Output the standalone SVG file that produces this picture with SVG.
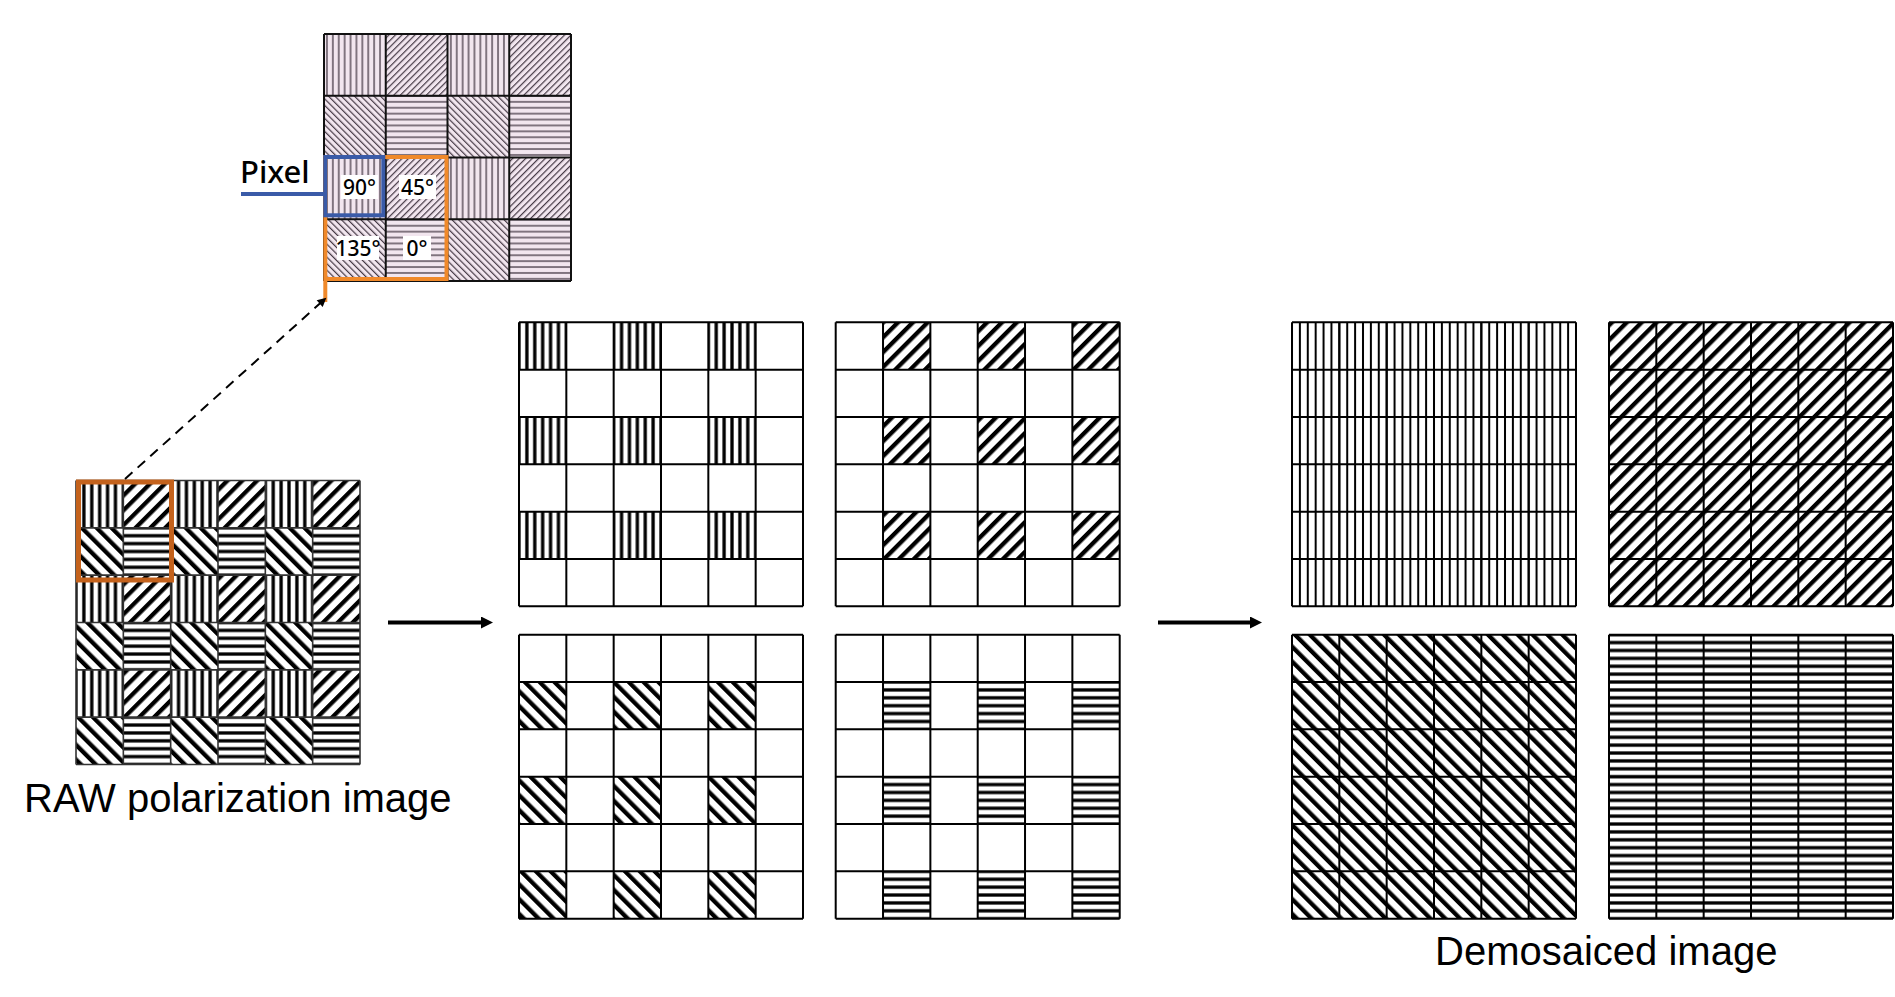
<svg xmlns="http://www.w3.org/2000/svg" width="1895" height="997" viewBox="0 0 1895 997">
<style>
.grid{fill:none;stroke:#000;stroke-width:2}
.rawgrid{fill:none;stroke:#333;stroke-width:1.6}
.sgrid{fill:none;stroke:#111;stroke-width:2}
.lbl{font-family:"Noto Sans","DejaVu Sans",sans-serif;font-weight:500;font-size:21px;fill:#000;text-anchor:middle}
.cap{font-family:"Liberation Sans",Arial,sans-serif;font-size:40px;fill:#000}
.conn{stroke:#000;stroke-width:4;fill:none}
.dash{stroke:#000;stroke-width:2;fill:none;stroke-dasharray:10 7}
</style>
<defs>
<pattern id="pV" patternUnits="userSpaceOnUse" width="7.889" height="10"><rect width="7.889" height="10" fill="#fff"/><rect x="0" width="1.65" height="10" fill="#000"/><rect x="6.239" width="1.65" height="10" fill="#000"/></pattern>
<pattern id="pH" patternUnits="userSpaceOnUse" width="10" height="7.889"><rect width="10" height="7.889" fill="#fff"/><rect y="0" width="10" height="1.65" fill="#000"/><rect y="6.239" width="10" height="1.65" fill="#000"/></pattern>
<pattern id="pD45" patternUnits="userSpaceOnUse" width="10.5" height="10" patternTransform="rotate(45)"><rect width="10.5" height="10" fill="#fff"/><rect width="4.3" height="10" fill="#000"/></pattern>
<pattern id="pD135" patternUnits="userSpaceOnUse" width="10.5" height="10" patternTransform="rotate(-45)"><rect width="10.5" height="10" fill="#fff"/><rect width="4.3" height="10" fill="#000"/></pattern>
<pattern id="pVt" patternUnits="userSpaceOnUse" width="7.889" height="10"><rect width="7.889" height="10" fill="#fff"/><rect x="0" width="1" height="10" fill="#000"/><rect x="6.889" width="1" height="10" fill="#000"/></pattern>
<pattern id="pHt" patternUnits="userSpaceOnUse" width="10" height="7.889"><rect width="10" height="7.889" fill="#fff"/><rect y="0" width="10" height="1.3" fill="#000"/><rect y="6.589" width="10" height="1.3" fill="#000"/></pattern>
<pattern id="sV" patternUnits="userSpaceOnUse" width="5.9" height="10"><rect width="5.9" height="10" fill="#f2e6ef"/><rect x="2.3" width="1.3" height="10" fill="#463a46"/></pattern>
<pattern id="sH" patternUnits="userSpaceOnUse" width="10" height="5.9"><rect width="10" height="5.9" fill="#f2e6ef"/><rect y="2.3" width="10" height="1.3" fill="#463a46"/></pattern>
<pattern id="s45" patternUnits="userSpaceOnUse" width="4.6" height="10" patternTransform="rotate(45)"><rect width="4.6" height="10" fill="#f2e6ef"/><rect width="1.2" height="10" fill="#463a46"/></pattern>
<pattern id="s135" patternUnits="userSpaceOnUse" width="4.6" height="10" patternTransform="rotate(-45)"><rect width="4.6" height="10" fill="#f2e6ef"/><rect width="1.2" height="10" fill="#463a46"/></pattern>
<path id="grid6" d="M0 0H284M0 47.33H284M0 94.67H284M0 142H284M0 189.33H284M0 236.67H284M0 284H284M0 0V284M47.33 0V284M94.67 0V284M142 0V284M189.33 0V284M236.67 0V284M284 0V284"/>
<path id="grid4" d="M0 0H247M0 61.75H247M0 123.5H247M0 185.25H247M0 247H247M0 0V247M61.75 0V247M123.5 0V247M185.25 0V247M247 0V247"/>
<marker id="ah" viewBox="0 0 12 12" refX="2" refY="6" markerWidth="12" markerHeight="12" markerUnits="userSpaceOnUse" orient="auto"><path d="M0 0L12 6L0 12z" fill="#000"/></marker>
<marker id="ahs" viewBox="0 0 10 10" refX="2" refY="5" markerWidth="10" markerHeight="9" markerUnits="userSpaceOnUse" orient="auto"><path d="M0 0L10 5L0 10z" fill="#000"/></marker>
</defs>
<rect width="1895" height="997" fill="#fff"/>

<!-- zoomed polarizer mosaic -->
<g id="mosaic-zoom">
<g transform="translate(324,34)">
<rect x="0" y="0" width="61.75" height="61.75" fill="url(#sV)"/>
<rect x="123.5" y="0" width="61.75" height="61.75" fill="url(#sV)"/>
<rect x="0" y="123.5" width="61.75" height="61.75" fill="url(#sV)"/>
<rect x="123.5" y="123.5" width="61.75" height="61.75" fill="url(#sV)"/>
<rect x="61.75" y="0" width="61.75" height="61.75" fill="url(#s45)"/>
<rect x="185.25" y="0" width="61.75" height="61.75" fill="url(#s45)"/>
<rect x="61.75" y="123.5" width="61.75" height="61.75" fill="url(#s45)"/>
<rect x="185.25" y="123.5" width="61.75" height="61.75" fill="url(#s45)"/>
<rect x="0" y="61.75" width="61.75" height="61.75" fill="url(#s135)"/>
<rect x="123.5" y="61.75" width="61.75" height="61.75" fill="url(#s135)"/>
<rect x="0" y="185.25" width="61.75" height="61.75" fill="url(#s135)"/>
<rect x="123.5" y="185.25" width="61.75" height="61.75" fill="url(#s135)"/>
<rect x="61.75" y="61.75" width="61.75" height="61.75" fill="url(#sH)"/>
<rect x="185.25" y="61.75" width="61.75" height="61.75" fill="url(#sH)"/>
<rect x="61.75" y="185.25" width="61.75" height="61.75" fill="url(#sH)"/>
<rect x="185.25" y="185.25" width="61.75" height="61.75" fill="url(#sH)"/>
<use href="#grid4" class="sgrid"/>
</g>
<rect x="341" y="175" width="37" height="24" fill="#fff"/>
<rect x="399" y="175" width="37" height="24" fill="#fff"/>
<rect x="337" y="236" width="42" height="24" fill="#fff"/>
<rect x="403" y="236" width="28" height="24" fill="#fff"/>
<text class="lbl" x="359.5" y="195">90°</text>
<text class="lbl" x="417.5" y="195">45°</text>
<text class="lbl" x="358" y="256">135°</text>
<text class="lbl" x="417" y="256">0°</text>
<path d="M325.3 302V157H446.5V279H325.3" fill="none" stroke="#f0892a" stroke-width="4"/>
<rect x="325.3" y="157" width="58" height="58.3" fill="none" stroke="#3a5ba8" stroke-width="4"/>
</g>

<g id="pixel-label">
<line x1="241" y1="194" x2="324" y2="194" stroke="#3a5ba8" stroke-width="4"/>
<text x="240" y="183" font-family="'Noto Sans','DejaVu Sans',sans-serif" font-weight="500" font-size="31">Pixel</text>
</g>

<!-- RAW polarization image -->
<g id="raw-image">
<g transform="translate(76,480.5)">
<rect x="0" y="0" width="47.33" height="47.33" fill="url(#pV)"/>
<rect x="94.67" y="0" width="47.33" height="47.33" fill="url(#pV)"/>
<rect x="189.33" y="0" width="47.33" height="47.33" fill="url(#pV)"/>
<rect x="0" y="94.67" width="47.33" height="47.33" fill="url(#pV)"/>
<rect x="94.67" y="94.67" width="47.33" height="47.33" fill="url(#pV)"/>
<rect x="189.33" y="94.67" width="47.33" height="47.33" fill="url(#pV)"/>
<rect x="0" y="189.33" width="47.33" height="47.33" fill="url(#pV)"/>
<rect x="94.67" y="189.33" width="47.33" height="47.33" fill="url(#pV)"/>
<rect x="189.33" y="189.33" width="47.33" height="47.33" fill="url(#pV)"/>
<rect x="47.33" y="0" width="47.33" height="47.33" fill="url(#pD45)"/>
<rect x="142" y="0" width="47.33" height="47.33" fill="url(#pD45)"/>
<rect x="236.67" y="0" width="47.33" height="47.33" fill="url(#pD45)"/>
<rect x="47.33" y="94.67" width="47.33" height="47.33" fill="url(#pD45)"/>
<rect x="142" y="94.67" width="47.33" height="47.33" fill="url(#pD45)"/>
<rect x="236.67" y="94.67" width="47.33" height="47.33" fill="url(#pD45)"/>
<rect x="47.33" y="189.33" width="47.33" height="47.33" fill="url(#pD45)"/>
<rect x="142" y="189.33" width="47.33" height="47.33" fill="url(#pD45)"/>
<rect x="236.67" y="189.33" width="47.33" height="47.33" fill="url(#pD45)"/>
<rect x="0" y="47.33" width="47.33" height="47.33" fill="url(#pD135)"/>
<rect x="94.67" y="47.33" width="47.33" height="47.33" fill="url(#pD135)"/>
<rect x="189.33" y="47.33" width="47.33" height="47.33" fill="url(#pD135)"/>
<rect x="0" y="142" width="47.33" height="47.33" fill="url(#pD135)"/>
<rect x="94.67" y="142" width="47.33" height="47.33" fill="url(#pD135)"/>
<rect x="189.33" y="142" width="47.33" height="47.33" fill="url(#pD135)"/>
<rect x="0" y="236.67" width="47.33" height="47.33" fill="url(#pD135)"/>
<rect x="94.67" y="236.67" width="47.33" height="47.33" fill="url(#pD135)"/>
<rect x="189.33" y="236.67" width="47.33" height="47.33" fill="url(#pD135)"/>
<rect x="47.33" y="47.33" width="47.33" height="47.33" fill="url(#pH)"/>
<rect x="142" y="47.33" width="47.33" height="47.33" fill="url(#pH)"/>
<rect x="236.67" y="47.33" width="47.33" height="47.33" fill="url(#pH)"/>
<rect x="47.33" y="142" width="47.33" height="47.33" fill="url(#pH)"/>
<rect x="142" y="142" width="47.33" height="47.33" fill="url(#pH)"/>
<rect x="236.67" y="142" width="47.33" height="47.33" fill="url(#pH)"/>
<rect x="47.33" y="236.67" width="47.33" height="47.33" fill="url(#pH)"/>
<rect x="142" y="236.67" width="47.33" height="47.33" fill="url(#pH)"/>
<rect x="236.67" y="236.67" width="47.33" height="47.33" fill="url(#pH)"/>
<use href="#grid6" class="rawgrid"/>
<rect x="2.5" y="1.5" width="93" height="98" fill="none" stroke="#c4621c" stroke-width="5"/>
</g>
<text class="cap" x="24" y="812" font-size="40.5">RAW polarization image</text>
</g>

<!-- separated channels -->
<g id="channel-90" transform="translate(519,322.3)">
<rect width="284" height="284" fill="#fff"/>
<rect x="0" y="0" width="47.33" height="47.33" fill="url(#pV)"/>
<rect x="94.67" y="0" width="47.33" height="47.33" fill="url(#pV)"/>
<rect x="189.33" y="0" width="47.33" height="47.33" fill="url(#pV)"/>
<rect x="0" y="94.67" width="47.33" height="47.33" fill="url(#pV)"/>
<rect x="94.67" y="94.67" width="47.33" height="47.33" fill="url(#pV)"/>
<rect x="189.33" y="94.67" width="47.33" height="47.33" fill="url(#pV)"/>
<rect x="0" y="189.33" width="47.33" height="47.33" fill="url(#pV)"/>
<rect x="94.67" y="189.33" width="47.33" height="47.33" fill="url(#pV)"/>
<rect x="189.33" y="189.33" width="47.33" height="47.33" fill="url(#pV)"/>
<use href="#grid6" class="grid"/>
</g>
<g id="channel-45" transform="translate(835.7,322.3)">
<rect width="284" height="284" fill="#fff"/>
<rect x="47.33" y="0" width="47.33" height="47.33" fill="url(#pD45)"/>
<rect x="142" y="0" width="47.33" height="47.33" fill="url(#pD45)"/>
<rect x="236.67" y="0" width="47.33" height="47.33" fill="url(#pD45)"/>
<rect x="47.33" y="94.67" width="47.33" height="47.33" fill="url(#pD45)"/>
<rect x="142" y="94.67" width="47.33" height="47.33" fill="url(#pD45)"/>
<rect x="236.67" y="94.67" width="47.33" height="47.33" fill="url(#pD45)"/>
<rect x="47.33" y="189.33" width="47.33" height="47.33" fill="url(#pD45)"/>
<rect x="142" y="189.33" width="47.33" height="47.33" fill="url(#pD45)"/>
<rect x="236.67" y="189.33" width="47.33" height="47.33" fill="url(#pD45)"/>
<use href="#grid6" class="grid"/>
</g>
<g id="channel-135" transform="translate(519,634.7)">
<rect width="284" height="284" fill="#fff"/>
<rect x="0" y="47.33" width="47.33" height="47.33" fill="url(#pD135)"/>
<rect x="94.67" y="47.33" width="47.33" height="47.33" fill="url(#pD135)"/>
<rect x="189.33" y="47.33" width="47.33" height="47.33" fill="url(#pD135)"/>
<rect x="0" y="142" width="47.33" height="47.33" fill="url(#pD135)"/>
<rect x="94.67" y="142" width="47.33" height="47.33" fill="url(#pD135)"/>
<rect x="189.33" y="142" width="47.33" height="47.33" fill="url(#pD135)"/>
<rect x="0" y="236.67" width="47.33" height="47.33" fill="url(#pD135)"/>
<rect x="94.67" y="236.67" width="47.33" height="47.33" fill="url(#pD135)"/>
<rect x="189.33" y="236.67" width="47.33" height="47.33" fill="url(#pD135)"/>
<use href="#grid6" class="grid"/>
</g>
<g id="channel-0" transform="translate(835.7,634.7)">
<rect width="284" height="284" fill="#fff"/>
<rect x="47.33" y="47.33" width="47.33" height="47.33" fill="url(#pH)"/>
<rect x="142" y="47.33" width="47.33" height="47.33" fill="url(#pH)"/>
<rect x="236.67" y="47.33" width="47.33" height="47.33" fill="url(#pH)"/>
<rect x="47.33" y="142" width="47.33" height="47.33" fill="url(#pH)"/>
<rect x="142" y="142" width="47.33" height="47.33" fill="url(#pH)"/>
<rect x="236.67" y="142" width="47.33" height="47.33" fill="url(#pH)"/>
<rect x="47.33" y="236.67" width="47.33" height="47.33" fill="url(#pH)"/>
<rect x="142" y="236.67" width="47.33" height="47.33" fill="url(#pH)"/>
<rect x="236.67" y="236.67" width="47.33" height="47.33" fill="url(#pH)"/>
<use href="#grid6" class="grid"/>
</g>

<!-- demosaiced images -->
<g id="demosaic-90" transform="translate(1292,322.3)">
<rect width="284" height="284" fill="url(#pVt)"/>
<use href="#grid6" class="grid"/>
</g>
<g id="demosaic-45" transform="translate(1609,322.3)">
<rect width="284" height="284" fill="url(#pD45)"/>
<use href="#grid6" class="grid"/>
</g>
<g id="demosaic-135" transform="translate(1292,634.7)">
<rect width="284" height="284" fill="url(#pD135)"/>
<use href="#grid6" class="grid"/>
</g>
<g id="demosaic-0" transform="translate(1609,634.7)">
<rect width="284" height="284" fill="url(#pH)"/>
<use href="#grid6" class="grid"/>
</g>
<text class="cap" x="1435" y="965">Demosaiced image</text>

<g id="connectors">
<line class="dash" x1="125" y1="479" x2="321" y2="302.5" marker-end="url(#ahs)"/>
<line class="conn" x1="388" y1="622.5" x2="483" y2="622.5" marker-end="url(#ah)"/>
<line class="conn" x1="1158" y1="622.5" x2="1252" y2="622.5" marker-end="url(#ah)"/>
</g>
</svg>
